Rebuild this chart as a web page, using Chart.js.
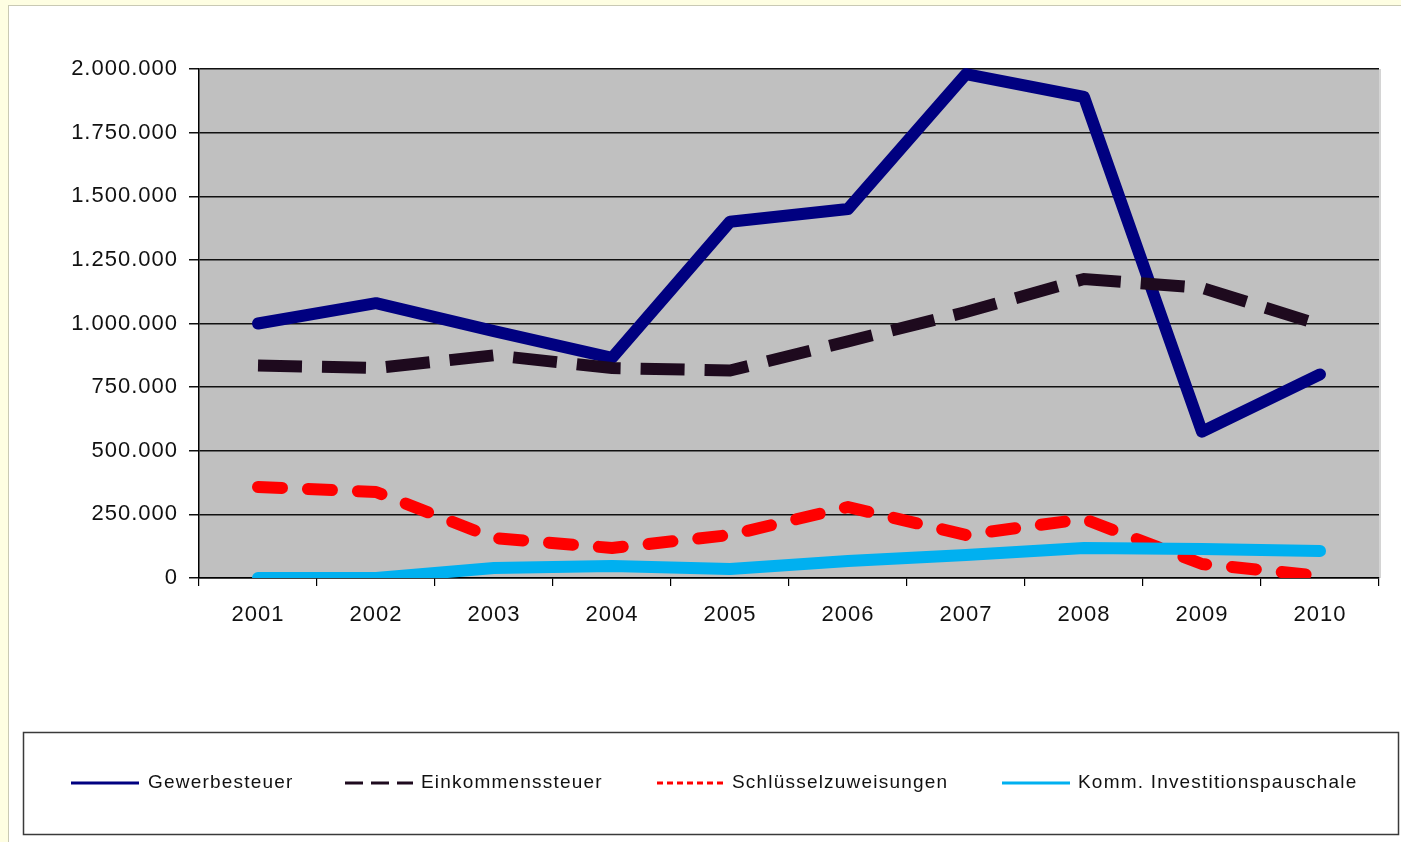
<!DOCTYPE html>
<html>
<head>
<meta charset="utf-8">
<script src="https://cdn.jsdelivr.net/npm/chart.js@4.4.1/dist/chart.umd.min.js"></script>
<style>
  html, body { margin: 0; padding: 0; background: #fefee2; }
  #wrap { position: absolute; left: 8px; top: 5px; width: 1393px; height: 837px; background: #fff;
          border-left: 1px solid #c9c9b4; border-top: 1px solid #c9c9b4; box-sizing: border-box; }
  canvas { display: block; }
</style>
</head>
<body>
<div id="wrap"><canvas id="c" width="1392" height="836"></canvas></div>
<script>
const years = ['2001','2002','2003','2004','2005','2006','2007','2008','2009','2010'];
const gewerbesteuer = [1000000, 1080000, 970000, 865000, 1400000, 1450000, 1980000, 1890000, 575000, 800000];
const einkommensteuer = [835000, 825000, 875000, 825000, 815000, 930000, 1045000, 1175000, 1140000, 995000];
const schluesselzuweisungen = [358000, 338000, 157000, 118000, 169000, 279000, 169000, 232000, 55000, 8000];
const investitionspauschale = [0, 0, 39000, 47000, 35000, 67000, 90000, 118000, 114000, 106000];
const seriesNames = ['Gewerbesteuer', 'Einkommenssteuer', 'Schlüsselzuweisungen', 'Komm. Investitionspauschale'];
const yTicks = [0, 250000, 500000, 750000, 1000000, 1250000, 1500000, 1750000, 2000000];

function fmt(v) { return String(v).replace(/\B(?=(\d{3})+(?!\d))/g, '.'); }

Chart.defaults.font.family = '"Liberation Sans", Arial, sans-serif';
Chart.defaults.font.size = 22;
Chart.defaults.color = '#111';

const bgPlugin = {
  id: 'bg',
  beforeDraw(chart) {
    const ctx = chart.ctx, a = chart.chartArea;
    ctx.letterSpacing = '1px';
    ctx.save();
    ctx.fillStyle = '#c0c0c0';
    ctx.fillRect(a.left, a.top, a.right - a.left, a.bottom - a.top);
    ctx.strokeStyle = '#d4d4d4';
    ctx.lineWidth = 2;
    ctx.beginPath(); ctx.moveTo(a.right + 1, a.top); ctx.lineTo(a.right + 1, a.bottom); ctx.stroke();
    ctx.restore();
  },
  afterDraw(chart) {
    const ctx = chart.ctx;
    ctx.save();
    ctx.letterSpacing = '1.2px';
    ctx.strokeStyle = '#3a3a3a';
    ctx.lineWidth = 1.5;
    ctx.strokeRect(14.5, 726.5, 1375, 102);
    const items = [
      { x: 62, tx: 139 },
      { x: 336, tx: 412 },
      { x: 648, tx: 723 },
      { x: 993, tx: 1069 }
    ];
    const dashes = [[], [18, 8], [6, 4], []];
    const y = 777;
    chart.data.datasets.forEach((ds, i) => {
      const it = items[i];
      ctx.save();
      ctx.strokeStyle = ds.borderColor;
      ctx.lineWidth = 3;
      ctx.setLineDash(dashes[i]);
      ctx.beginPath(); ctx.moveTo(it.x, y); ctx.lineTo(it.x + 68, y); ctx.stroke();
      ctx.restore();
      ctx.fillStyle = '#111';
      ctx.font = '19px "Liberation Sans", Arial, sans-serif';
      ctx.textBaseline = 'middle';
      ctx.textAlign = 'left';
      ctx.fillText(ds.label, it.tx, y);
    });
    ctx.restore();
  }
};

new Chart(document.getElementById('c'), {
  type: 'line',
  data: {
    labels: years,
    datasets: [
      { label: seriesNames[0], data: gewerbesteuer, borderColor: '#000080', borderWidth: 12, order: 4,
        borderCapStyle: 'round', borderJoinStyle: 'round' },
      { label: seriesNames[1], data: einkommensteuer, borderColor: '#1e0a1e', borderWidth: 12, order: 3,
        borderDash: [44, 20], borderCapStyle: 'butt', borderJoinStyle: 'miter' },
      { label: seriesNames[2], data: schluesselzuweisungen, borderColor: '#ff0000', borderWidth: 12, order: 2,
        borderDash: [24, 26], borderCapStyle: 'round', borderJoinStyle: 'round' },
      { label: seriesNames[3], data: investitionspauschale, borderColor: '#00b0f0', borderWidth: 12, order: 1,
        borderCapStyle: 'round', borderJoinStyle: 'round' }
    ].map(d => Object.assign(d, { pointRadius: 0, pointHoverRadius: 0, tension: 0, fill: false,
        clip: { left: 20, right: 20, top: 20, bottom: 0 } }))
  },
  options: {
    responsive: false,
    animation: false,
    events: [],
    layout: { padding: { left: 0, top: 63, right: 22, bottom: 204 } },
    plugins: { legend: { display: false }, tooltip: { enabled: false } },
    scales: {
      x: {
        type: 'category',
        offset: true,
        grid: { offset: true, drawOnChartArea: false, drawTicks: true, tickLength: 8, color: '#000', lineWidth: 1.2 },
        border: { display: true, color: '#000', width: 1.5 },
        ticks: { padding: 16, color: '#111', font: { size: 22 }, maxRotation: 0 },
        afterFit(s) { s.height = 60; }
      },
      y: {
        min: 0, max: 2000000,
        afterBuildTicks(s) { s.ticks = yTicks.map(v => ({ value: v })); },
        grid: { color: '#111', lineWidth: 1.5, tickLength: 10, drawTicks: true },
        border: { display: true, color: '#000', width: 1.5 },
        ticks: { padding: 11, color: '#111', font: { size: 22 }, callback: v => fmt(v) },
        afterFit(s) { s.width = 190; }
      }
    }
  },
  plugins: [bgPlugin]
});
</script>
</body>
</html>
